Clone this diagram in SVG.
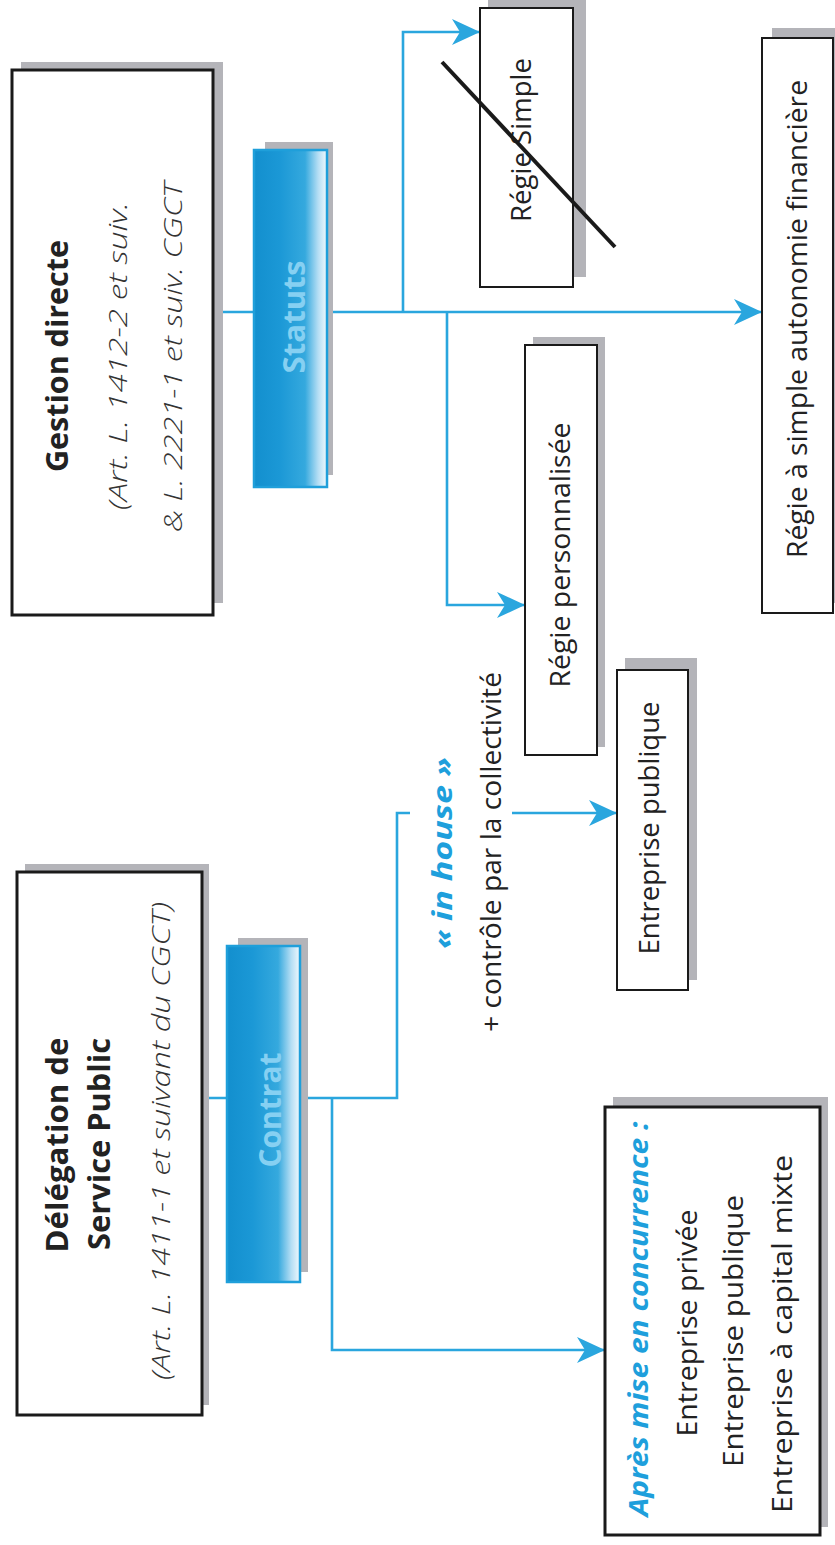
<svg xmlns="http://www.w3.org/2000/svg" width="835" height="1545" viewBox="0 0 835 1545">
<defs>
<style>
.shadow{fill:#b4b4b9;}
.box{fill:#ffffff;stroke:#1a1a1a;stroke-width:2;}
.boxmain{fill:#ffffff;stroke:#1a1a1a;stroke-width:3;}
.tab{fill:url(#tabgrad);stroke:#1f9fda;stroke-width:2.5;}
.conn{fill:none;stroke:#2aa6de;stroke-width:2.6;}
.t{font-family:"Open Sans","Noto Sans","Liberation Sans",sans-serif;fill:#222222;text-anchor:middle;}
.reg{font-size:27px;}
.bold{font-size:30px;font-weight:bold;}
.ital{font-size:26px;font-style:italic;font-weight:300;fill:#333333;}
.blueb{font-size:26px;font-weight:bold;font-style:italic;fill:#1e9fdc;}
.tabt{font-size:30px;font-weight:bold;fill:#86d0f2;}
</style>
<linearGradient id="tabgrad" x1="0" y1="0" x2="1" y2="0">
<stop offset="0" stop-color="#138fce"/>
<stop offset="0.35" stop-color="#1b98d6"/>
<stop offset="0.7" stop-color="#35a9de"/>
<stop offset="0.88" stop-color="#b5def4"/>
<stop offset="1" stop-color="#f1f9fd"/>
</linearGradient>
<marker id="arr" markerUnits="userSpaceOnUse" markerWidth="30" markerHeight="28" refX="28" refY="13" orient="auto">
<path d="M0,0 L28,13 L0,26 L8,13 Z" fill="#2aa6de"/>
</marker>
</defs>

<g id="connectors">
<path class="conn" d="M213,312 H762" marker-end="url(#arr)"/>
<path class="conn" d="M403,312 V32 H480" marker-end="url(#arr)"/>
<path class="conn" d="M447,312 V605 H525" marker-end="url(#arr)"/>
<path class="conn" d="M202,1098 H397 V813 H410"/>
<path class="conn" d="M332,1098 V1350 H605" marker-end="url(#arr)"/>
<path class="conn" d="M512,813 H617" marker-end="url(#arr)"/>
</g>

<g id="gestion-directe">
<rect class="shadow" x="21" y="62" width="202" height="541"/>
<rect class="boxmain" x="12" y="70" width="201" height="545"/>
<text class="t bold" transform="translate(68,356) rotate(-90)" textLength="232" lengthAdjust="spacingAndGlyphs">Gestion directe</text>
<text class="t ital" transform="translate(127,356) rotate(-90)" textLength="308" lengthAdjust="spacingAndGlyphs">(Art. L. 1412-2 et suiv.</text>
<text class="t ital" transform="translate(182,357) rotate(-90)" textLength="350" lengthAdjust="spacingAndGlyphs">&amp; L. 2221-1 et suiv. CGCT</text>
</g>

<g id="statuts">
<rect class="shadow" x="265" y="142" width="68" height="333"/>
<rect class="tab" x="254" y="150" width="73" height="337"/>
<text class="t tabt" transform="translate(305,317) rotate(-90)" textLength="113" lengthAdjust="spacingAndGlyphs">Statuts</text>
</g>

<g id="regie-simple">
<rect class="shadow" x="488" y="0" width="98" height="277"/>
<rect class="box" x="480" y="8" width="93" height="279"/>
<text class="t reg" transform="translate(531,140) rotate(-90)" textLength="164" lengthAdjust="spacingAndGlyphs">Régie Simple</text>
<line x1="442" y1="62" x2="615" y2="247" stroke="#1a1a1a" stroke-width="4"/>
</g>

<g id="regie-autonomie">
<rect class="shadow" x="772" y="28" width="70" height="575"/>
<rect class="box" x="762" y="38" width="71" height="575"/>
<text class="t reg" transform="translate(807,319) rotate(-90)" textLength="478" lengthAdjust="spacingAndGlyphs">Régie à simple autonomie financière</text>
</g>

<g id="regie-personnalisee">
<rect class="shadow" x="533" y="337" width="72" height="410"/>
<rect class="box" x="525" y="345" width="72" height="410"/>
<text class="t reg" transform="translate(570,555) rotate(-90)" textLength="265" lengthAdjust="spacingAndGlyphs">Régie personnalisée</text>
</g>

<g id="in-house-label">
<text class="t blueb" transform="translate(452,853) rotate(-90)" textLength="192" lengthAdjust="spacingAndGlyphs">« in house »</text>
<text class="t reg" transform="translate(501,852) rotate(-90)" textLength="360" lengthAdjust="spacingAndGlyphs">+ contrôle par la collectivité</text>
</g>

<g id="entreprise-publique">
<rect class="shadow" x="625" y="658" width="72" height="322"/>
<rect class="box" x="617" y="670" width="71" height="320"/>
<text class="t reg" transform="translate(659,828) rotate(-90)" textLength="253" lengthAdjust="spacingAndGlyphs">Entreprise publique</text>
</g>

<g id="delegation">
<rect class="shadow" x="25" y="864" width="184" height="541"/>
<rect class="boxmain" x="17" y="872" width="185" height="543"/>
<text class="t bold" transform="translate(68,1145) rotate(-90)" textLength="215" lengthAdjust="spacingAndGlyphs">Délégation de</text>
<text class="t bold" transform="translate(110,1144) rotate(-90)" textLength="212" lengthAdjust="spacingAndGlyphs">Service Public</text>
<text class="t ital" transform="translate(170,1141) rotate(-90)" textLength="478" lengthAdjust="spacingAndGlyphs">(Art. L. 1411-1 et suivant du CGCT)</text>
</g>

<g id="contrat">
<rect class="shadow" x="238" y="938" width="70" height="334"/>
<rect class="tab" x="227" y="946" width="73" height="336"/>
<text class="t tabt" transform="translate(281,1110) rotate(-90)" textLength="115" lengthAdjust="spacingAndGlyphs">Contrat</text>
</g>

<g id="apres-concurrence">
<rect class="shadow" x="613" y="1097" width="215" height="430"/>
<rect class="boxmain" x="605" y="1107" width="215" height="428"/>
<text class="t blueb" transform="translate(648,1319) rotate(-90)" textLength="395" lengthAdjust="spacingAndGlyphs">Après mise en concurrence :</text>
<text class="t reg" transform="translate(697,1323) rotate(-90)" textLength="227" lengthAdjust="spacingAndGlyphs">Entreprise privée</text>
<text class="t reg" transform="translate(743,1331) rotate(-90)" textLength="272" lengthAdjust="spacingAndGlyphs">Entreprise publique</text>
<text class="t reg" transform="translate(792,1334) rotate(-90)" textLength="358" lengthAdjust="spacingAndGlyphs">Entreprise à capital mixte</text>
</g>
</svg>
